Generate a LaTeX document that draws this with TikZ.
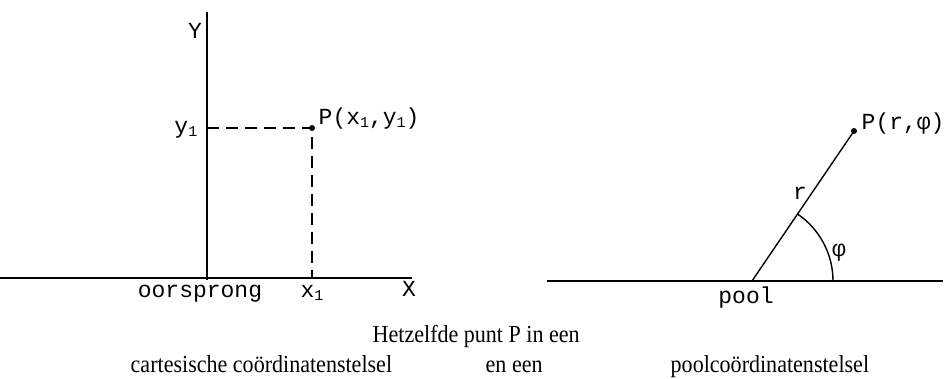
\documentclass[tikz,border=0pt]{standalone}
\usepackage{fontspec}
\setmainfont{Liberation Serif}
\newfontfamily\typefont{Liberation Mono}
\newfontfamily\capfont[FakeStretch=0.9]{Liberation Serif}
\newcommand\lowone{\raisebox{-3pt}{\fontsize{15}{15}\selectfont 1}}
\begin{document}
\begin{tikzpicture}[x=1pt, y=-1pt, line width=1.4pt,
  every node/.style={font=\typefont\fontsize{23}{23}\selectfont, inner sep=0pt},
  caption/.style={font=\capfont\fontsize{24.5}{24.5}\selectfont, anchor=base west}]
  \useasboundingbox (0,0) rectangle (948,379);
  % cartesisch
  \coordinate (xl) at (0,278);
  \coordinate (xr) at (412,278);
  \coordinate (yt) at (207,12);
  \coordinate (yb) at (207,280);
  \coordinate (P) at (312,128);
  \draw (xl) -- (xr);
  \draw (yb) -- (yt);
  \draw[dashed, dash pattern=on 12pt off 7pt] (yb |- P) -- (P) -- (P |- xr);
  \fill (P) circle (3pt);
  \node (Y) at (195,31) {Y};
  \node[anchor=base east] (ylab) at (198,134) {y\lowone};
  \node[anchor=base west] (Plab) at (318,125) {P(x\lowone,y\lowone)};
  \node[anchor=base] (oor) at (200,298) {oorsprong};
  \node[anchor=base] (xlab) at (312,298) {x\lowone};
  \node[anchor=base] (X) at (409,297) {X};
  % pool
  \coordinate (al) at (547,281);
  \coordinate (ar) at (943,281);
  \coordinate (pool) at (752,281);
  \coordinate (Q) at (854,131);
  \draw (al) -- (ar);
  \draw (pool) -- (Q);
  \fill (Q) circle (3pt);
  \draw (pool) ++(0:81) arc[start angle=0, end angle=-55.8, radius=81];
  \node[anchor=base] (poollab) at (746,304) {pool};
  \node[anchor=base] (r) at (800,200) {r};
  \node (phi) at (839,253) {φ};
  \node[anchor=base west] (Qlab) at (861,130) {P(r,φ)};
  % onderschrift
  \node[caption] (c1) at (372,342) {Hetzelfde punt P in een};
  \node[caption] (c2) at (130,373) {cartesische coördinatenstelsel};
  \node[caption] (c3) at (485,373) {en een};
  \node[caption] (c4) at (670,373) {poolcoördinatenstelsel};
\end{tikzpicture}
\end{document}
